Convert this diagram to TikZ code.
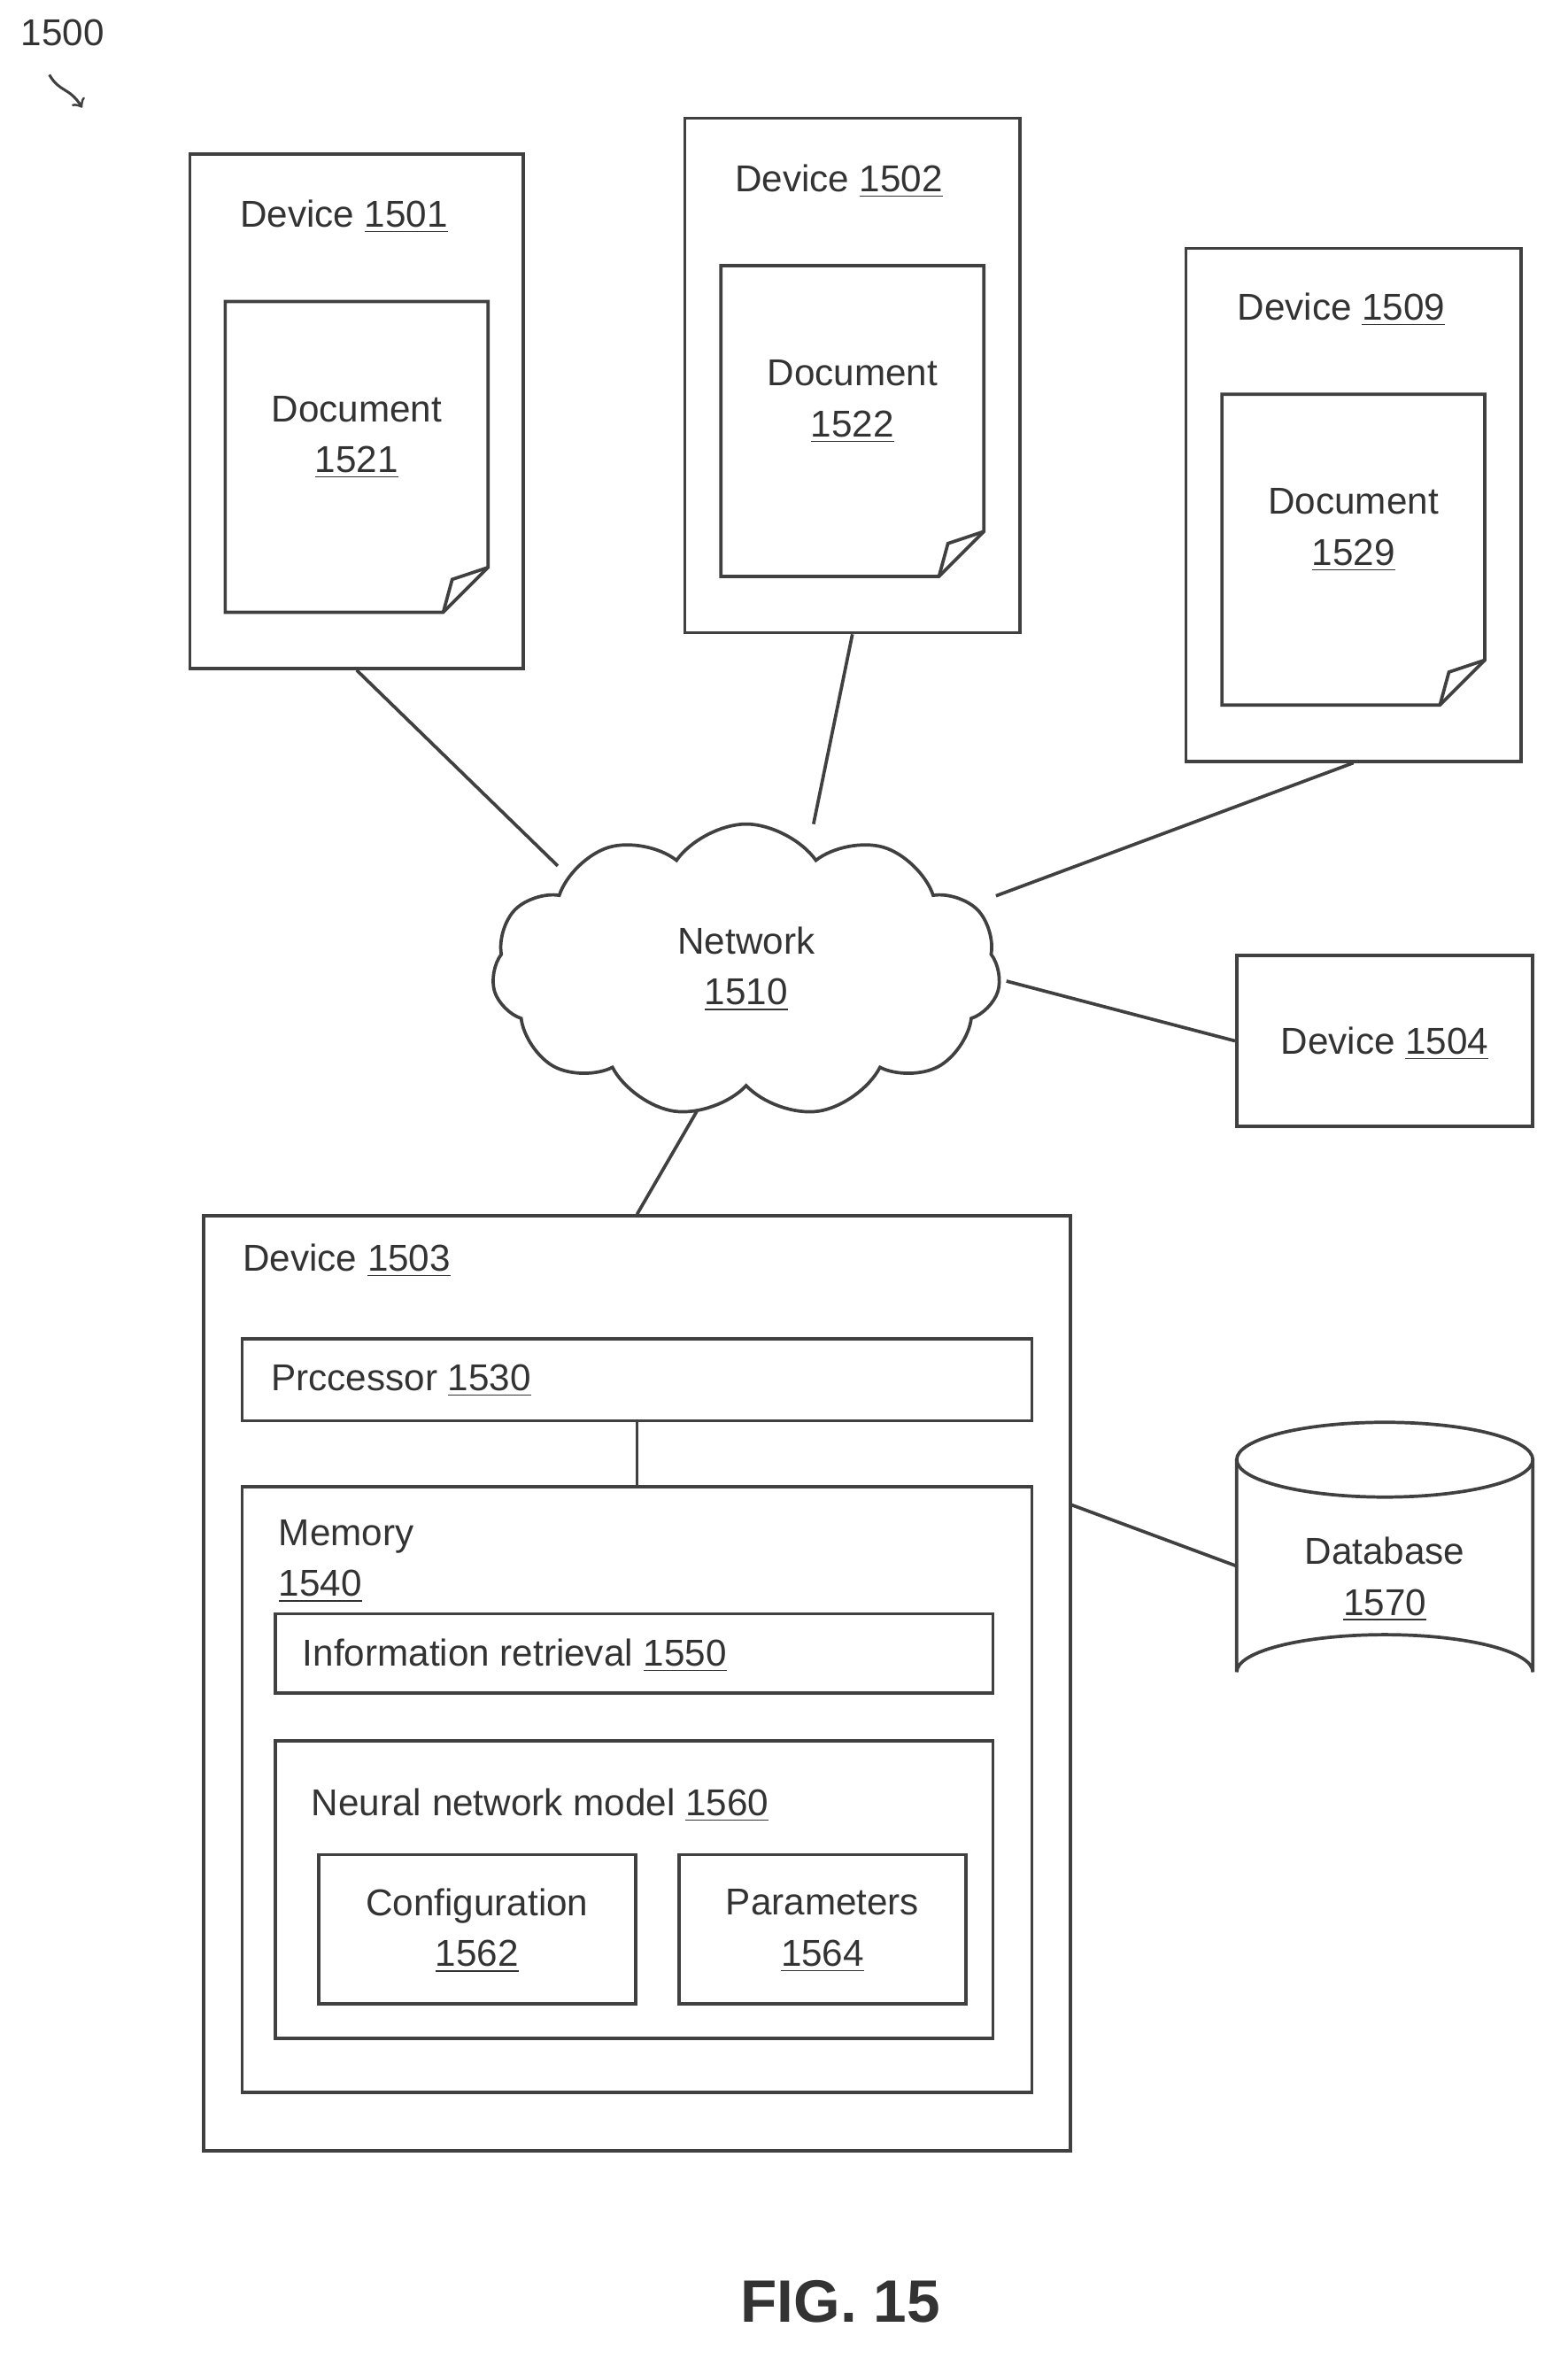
\documentclass[tikz,border=0pt]{standalone}
\usepackage{fontspec}
\setmainfont{Liberation Sans}
\usetikzlibrary{shapes.symbols,shapes.geometric}
\newcommand{\un}[1]{\underline{#1}}
\begin{document}
\begin{tikzpicture}[x=0.5pt,y=-0.5pt,
  every node/.style={font=\fontsize{12.5}{15}\selectfont\color{black!80}},
  box/.style={draw=black!75,line width=1.1pt,minimum width=#1,inner sep=0pt},
  ln/.style={draw=black!75,line width=1.1pt},
  txt/.style={inner sep=0pt,align=center}]
\useasboundingbox (0,0) rectangle (1048,1582);
% label
\node[txt] (lbl) at (42,22) {1500};
\coordinate (a1) at (33,50);\coordinate (a2) at (55,72);
\draw[ln,line width=0.9pt,->] (a1) .. controls (40,62) and (46,58) .. (a2);
% devices
\node[box=111.5pt,minimum height=172pt] (d1501) at (238.5,275) {};
\node[box=112pt,minimum height=172pt] (d1502) at (570,251) {};
\node[box=112pt,minimum height=171.5pt] (d1509) at (905,337.5) {};
\node[box=99pt,minimum height=57pt] (d1504) at (926,696) {};
\node[txt] (t1501) at (230,145) {Device \un{1501}};
\node[txt] (t1502) at (561,121) {Device \un{1502}};
\node[txt] (t1509) at (897,207) {Device \un{1509}};
\node[txt] (t1504) at (926,698) {Device \un{1504}};
% documents
\foreach \n/\x/\y/\lab in {doc1521/238.5/305.5/1521, doc1522/570/281.5/1522, doc1529/905/367.5/1529}{
  \node[minimum width=87.5pt,minimum height=103.5pt,inner sep=0pt] (\n) at (\x,\y) {};
  \draw[ln] (\n.north west) -- (\n.north east) -- ([yshift=15pt]\n.south east) -- ([xshift=-15pt]\n.south east) -- (\n.south west) -- cycle;
  \draw[ln] ([xshift=-15pt]\n.south east) -- ([xshift=-12pt,yshift=11pt]\n.south east) -- ([yshift=15pt]\n.south east);
  \node[txt] at (\x,\y-13) {Document\\[2pt]\un{\lab}};
}
% network
\node[cloud,cloud puffs=11,cloud puff arc=110,aspect=1.8,draw=black!75,line width=1.1pt,minimum width=170pt,minimum height=98pt] (net) at (499,649) {};
\node[txt] (tnet) at (499,648) {Network\\[2pt]\un{1510}};
% device 1503
\node[box=290pt,minimum height=312.5pt] (d1503) at (426,1125.5) {};
\node[txt,anchor=west] (t1503) at (162,843) {Device \un{1503}};
\node[box=264pt,minimum height=27.5pt] (proc) at (426,922.5) {};
\node[txt,anchor=west] at (181,923) {Prccessor \un{1530}};
\node[box=264pt,minimum height=202.5pt] (mem) at (426,1196.5) {};
\node[txt,anchor=west,align=left] at (186,1044) {Memory\\[2pt]\un{1540}};
\node[box=240pt,minimum height=26.5pt] (ir) at (424,1105.5) {};
\node[txt,anchor=west] at (202,1107) {Information retrieval \un{1550}};
\node[box=240pt,minimum height=99.5pt] (nn) at (424,1263.5) {};
\node[txt,anchor=west] at (208,1207) {Neural network model \un{1560}};
\node[box=106pt,minimum height=50pt] (conf) at (319,1290) {};
\node[txt] at (319,1291) {Configuration\\[2pt]\un{1562}};
\node[box=96pt,minimum height=50pt] (par) at (550,1290) {};
\node[txt] at (550,1291) {Parameters\\[2pt]\un{1564}};
% database
\node[minimum width=99pt,minimum height=96pt,inner sep=0pt] (db) at (926,1047) {};
\draw[ln] (926,976) ellipse [x radius=99, y radius=25];
\draw[ln] (827,976) -- (827,1118) arc[start angle=180,end angle=360,x radius=99,y radius=25] -- (1025,976);
\node[txt] at (926,1056) {Database\\[2pt]\un{1570}};
% connectors
\coordinate (n1) at (373,579);\coordinate (n2) at (544,551);\coordinate (n3) at (666,599);
\coordinate (n4) at (673,656);\coordinate (n5) at (466,743);
\draw[ln] (d1501.south) -- (n1);
\draw[ln] (d1502.south) -- (n2);
\draw[ln] (d1509.south) -- (n3);
\draw[ln] (n4) -- (d1504.west);
\draw[ln] (n5) -- (d1503.north);
\draw[ln] (proc.south) -- (mem.north);
\coordinate (m1) at (716,1006);
\draw[ln] (m1) -- (db.west);
% fig
\node[txt,font=\fontsize{20}{24}\selectfont\bfseries\color{black!80}] (fig) at (562,1539) {FIG. 15};
\end{tikzpicture}
\end{document}
